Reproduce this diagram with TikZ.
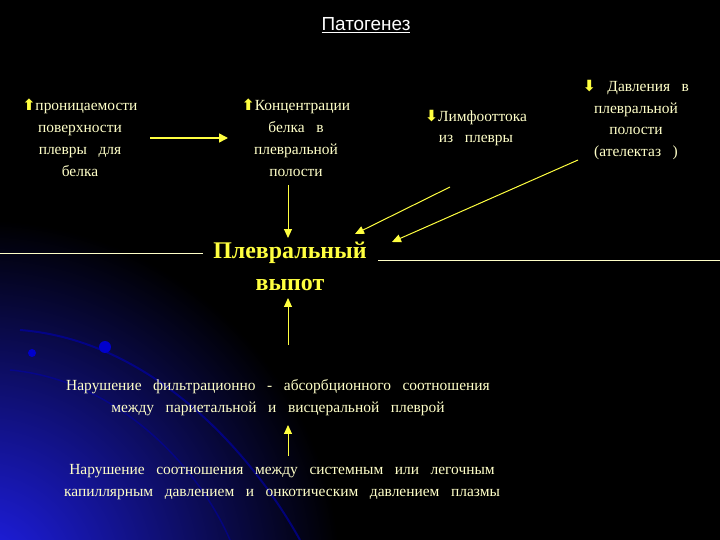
\documentclass[tikz,border=0pt]{standalone}
\usepackage{fontspec}
\usetikzlibrary{arrows.meta}
\setmainfont{Liberation Serif}
\newfontfamily\titlefont{Liberation Sans}
\newfontfamily\symfont{DejaVu Sans}
\definecolor{txt}{HTML}{FFFFC8}
\definecolor{arr}{HTML}{FFFF40}
\definecolor{glow}{HTML}{2020F0}
\newcommand{\wsp}{\spaceskip=0.75em plus 0.1em\relax}
\begin{document}
\begin{tikzpicture}[x=1bp,y=-1bp,
  lbl/.style={text=txt,align=center,font=\fontsize{15.5}{22}\selectfont\wsp,inner sep=1pt},
  con/.style={arr,line width=1.6pt,-{Triangle[width=9pt,length=9pt]}},
  thin/.style={arr,line width=1pt,-{Triangle[width=8pt,length=9pt]}}]
\useasboundingbox (0,0) rectangle (720,540);
\fill[black] (0,0) rectangle (720,540);
\begin{scope}
\clip (0,0) rectangle (720,540);
\shade[inner color=glow,outer color=black] (-20,580) circle (360);
\draw[blue!70!black,line width=2pt,opacity=0.6] (20,330) .. controls (150,340) and (250,450) .. (300,540);
\draw[blue!70!black,line width=1.5pt,opacity=0.5] (10,370) .. controls (120,380) and (200,470) .. (230,540);
\fill[blue!80!black] (105,347) circle (6);
\fill[blue!80!black] (32,353) circle (4);
\end{scope}
\node[text=white,font=\titlefont\fontsize{19}{22}\selectfont] (title) at (366,25) {\underline{Патогенез}};
\node[lbl] (n1) at (80,138) {{\symfont\bfseries\color{arr}⬆}проницаемости\\поверхности\\плевры для\\белка};
\node[lbl] (n2) at (296,138) {{\symfont\bfseries\color{arr}⬆}Концентрации\\белка в\\плевральной\\полости};
\node[lbl] (n3) at (476,128) {{\symfont\bfseries\color{arr}⬇}Лимфооттока\\из плевры};
\node[lbl] (n4) at (636,120) {{\symfont\bfseries\color{arr}⬇} Давления в\\плевральной\\полости\\(ателектаз )};
\node[text=arr,align=center,font=\bfseries\fontsize{24}{32}\selectfont] (main) at (290,266) {Плевральный\\выпот};
\node[lbl] (m) at (278,398) {Нарушение фильтрационно - абсорбционного соотношения\\между париетальной и висцеральной плеврой};
\node[lbl] (b) at (282,482) {Нарушение соотношения между системным или легочным\\капиллярным давлением и онкотическим давлением плазмы};
\coordinate (l1) at (0,253); \coordinate (l2) at (203,253);
\coordinate (r1) at (378,260); \coordinate (r2) at (720,260);
\coordinate (a1s) at (150,138); \coordinate (a1e) at (228,138);
\coordinate (a2s) at (288,185); \coordinate (a2e) at (288,238);
\coordinate (a3s) at (450,187); \coordinate (a3e) at (355,234);
\coordinate (a4s) at (578,160); \coordinate (a4e) at (392,242);
\coordinate (a5s) at (288,345); \coordinate (a5e) at (288,298);
\coordinate (a6s) at (288,456); \coordinate (a6e) at (288,425);
\draw[txt,line width=0.8pt] (l1) -- (l2);
\draw[txt,line width=0.8pt] (r1) -- (r2);
\draw[con] (a1s) -- (a1e);
\draw[thin] (a2s) -- (a2e);
\draw[thin] (a3s) -- (a3e);
\draw[thin] (a4s) -- (a4e);
\draw[thin] (a5s) -- (a5e);
\draw[thin] (a6s) -- (a6e);
\end{tikzpicture}
\end{document}
